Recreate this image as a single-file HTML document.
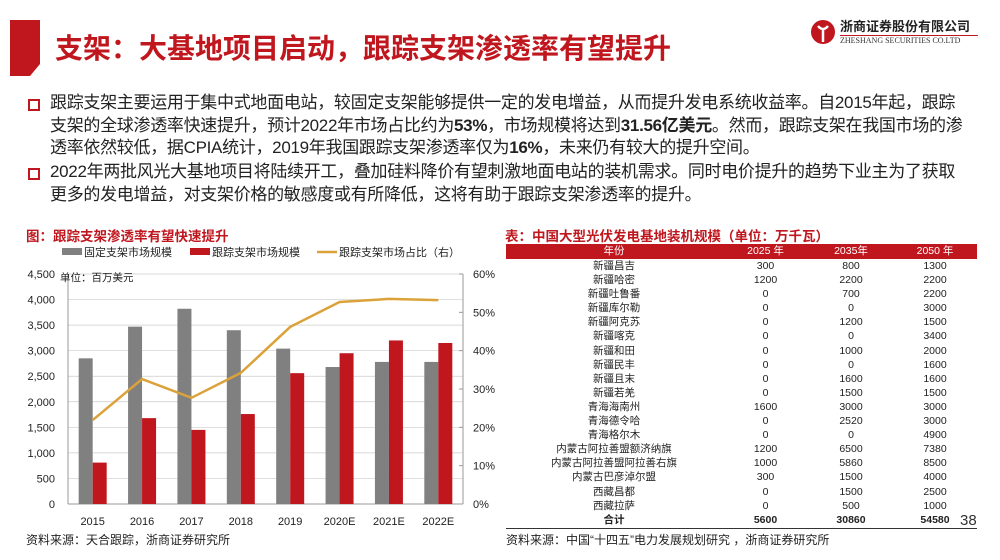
<!DOCTYPE html>
<html><head><meta charset="utf-8">
<style>
body{margin:0;width:1000px;height:560px;background:#fff;position:relative;overflow:hidden;font-family:"Liberation Sans","Noto Sans CJK SC",sans-serif;color:#222}
.abs{position:absolute}
.bul{left:28px;width:960px;font-size:17px;line-height:22.5px;white-space:nowrap}
.bul .sq{position:absolute;left:0;top:7px;width:8px;height:8px;border:2px solid #c0171f}
.bul p{margin:0 0 0 22px;letter-spacing:-0.3px}
table{border-collapse:collapse;font-size:10.5px}
td{padding:0;height:14.1px;line-height:14.1px;text-align:center}
</style></head><body>
<svg class="abs" style="left:10px;top:20px" width="30" height="56"><polygon points="0,0 30,0 30,44 20,56 0,56" fill="#c0171f"/></svg>
<div class="abs" style="left:55px;top:27px;font-size:28px;font-weight:bold;color:#c0171f;white-space:nowrap">支架：大基地项目启动，跟踪支架渗透率有望提升</div>
<div class="abs" style="left:810px;top:16px;width:170px;height:34px">
<svg width="26" height="28" style="position:absolute;left:0;top:2px"><circle cx="13" cy="14" r="12" fill="#c0171f"/><path d="M8 8 Q13 14 18 8 M13 12 L13 24" stroke="#fff" stroke-width="2.5" fill="none"/></svg>
<div style="position:absolute;left:30px;top:0;font-size:13px;font-weight:bold;color:#222">浙商证券股份有限公司</div>
<div style="position:absolute;left:30px;top:19px;font-size:8px;font-family:'Liberation Serif',serif;color:#333;border-top:1px solid #c0171f;width:138px">ZHESHANG SECURITIES CO.LTD</div></div>
<div class="abs bul" style="top:92px"><span class="sq"></span><p>跟踪支架主要运用于集中式地面电站，较固定支架能够提供一定的发电增益，从而提升发电系统收益率。自2015年起，跟踪<br>支架的全球渗透率快速提升，预计2022年市场占比约为<b>53%</b>，市场规模将达到<b>31.56亿美元</b>。然而，跟踪支架在我国市场的渗<br>透率依然较低，据CPIA统计，2019年我国跟踪支架渗透率仅为<b>16%</b>，未来仍有较大的提升空间。</p></div>
<div class="abs bul" style="top:161px"><span class="sq"></span><p>2022年两批风光大基地项目将陆续开工，叠加硅料降价有望刺激地面电站的装机需求。同时电价提升的趋势下业主为了获取<br>更多的发电增益，对支架价格的敏感度或有所降低，这将有助于跟踪支架渗透率的提升。</p></div>

<div class="abs" style="left:26px;top:225px;font-size:13.5px;font-weight:bold;color:#c0171f">图：跟踪支架渗透率有望快速提升</div>
<svg class="abs" style="left:0;top:0" width="500" height="560" id="chart"></svg>
<div class="abs" style="left:26px;top:531px;font-size:12px">资料来源：天合跟踪，浙商证券研究所</div>

<div class="abs" style="left:505px;top:225px;font-size:13.5px;font-weight:bold;color:#c0171f">表：中国大型光伏发电基地装机规模（单位：万千瓦）</div>
<table class="abs" style="left:506px;top:244px;width:471px">
<tr style="background:#c0171f;color:#fff"><td style="width:216px;height:15px">年份</td><td style="width:87px">2025 年</td><td style="width:84px">2035年</td><td>2050 年</td></tr>
<tbody id="tb"></tbody></table>
<div class="abs" style="left:506px;top:528px;width:471px;border-top:1.5px solid #333"></div>
<div class="abs" style="left:960px;top:512px;font-size:15px;color:#333">38</div>
<div class="abs" style="left:506px;top:531px;font-size:12px">资料来源：中国“十四五”电力发展规划研究 ，浙商证券研究所</div>

<script>
const rowNames=["新疆昌吉","新疆哈密","新疆吐鲁番","新疆库尔勒","新疆阿克苏","新疆喀克","新疆和田","新疆民丰","新疆且末","新疆若羌","青海海南州","青海德令哈","青海格尔木","内蒙古阿拉善盟额济纳旗","内蒙古阿拉善盟阿拉善右旗","内蒙古巴彦淖尔盟","西藏昌都","西藏拉萨","合计"];
const v2025=[300,1200,0,0,0,0,0,0,0,0,1600,0,0,1200,1000,300,0,0,5600];
const v2035=[800,2200,700,0,1200,0,1000,0,1600,1500,3000,2520,0,6500,5860,1500,1500,500,30860];
const v2050=[1300,2200,2200,3000,1500,3400,2000,1600,1600,1500,3000,3000,4900,7380,8500,4000,2500,1000,54580];
const tb=document.getElementById('tb');
rowNames.forEach((n,i)=>{const tr=document.createElement('tr');


if(i===rowNames.length-1)tr.style.fontWeight='bold';
tr.innerHTML=`<td>${n}</td><td>${v2025[i]}</td><td>${v2035[i]}</td><td>${v2050[i]}</td>`;tb.appendChild(tr);});

const cats=["2015","2016","2017","2018","2019","2020E","2021E","2022E"];
const fixedVals=[2850,3470,3820,3400,3040,2680,2780,2780];
const trackVals=[810,1680,1450,1760,2560,2950,3200,3150];
const sharePct=[21.9,32.6,27.7,34.2,46.2,52.7,53.5,53.2];
const leftTicks=[0,500,1000,1500,2000,2500,3000,3500,4000,4500];
const rightTicks=[0,10,20,30,40,50,60];
const NS='http://www.w3.org/2000/svg',svg=document.getElementById('chart');
const x0=68,x1=463,yb=504,yt=274;
const yL=v=>yb-(v/4500)*(yb-yt), yR=v=>yb-(v/60)*(yb-yt);
const step=(x1-x0)/cats.length, xc=i=>x0+step*(i+0.5);
function el(t,a,txt){const e=document.createElementNS(NS,t);for(const k in a)e.setAttribute(k,a[k]);if(txt!==undefined)e.textContent=txt;svg.appendChild(e);return e;}
leftTicks.forEach(t=>{const e=el('text',{x:55,y:yL(t)+4,'text-anchor':'end','font-size':11,fill:'#222'},t.toLocaleString('en-US'));
 if(t>0){const g=el('line',{x1:x0,x2:x1,y1:yL(t),y2:yL(t),stroke:'#ccc','stroke-width':0.7});}});
rightTicks.forEach(t=>{const e=el('text',{x:473,y:yR(t)+4,'font-size':11,fill:'#222'},t+'%');
 const k=el('line',{x1:x1,x2:x1-4,y1:yR(t),y2:yR(t),stroke:'#999'});});
let a=el('line',{x1:x0,x2:x0,y1:yt,y2:yb,stroke:'#999'});
a=el('line',{x1:x1,x2:x1,y1:yt,y2:yb,stroke:'#999'});
a=el('line',{x1:x0,x2:x1,y1:yb,y2:yb,stroke:'#999'});
a=el('text',{x:60,y:281,'font-size':10.5,fill:'#222'},'单位：百万美元');
const bw=14;
cats.forEach((c,i)=>{
 let r=el('rect',{x:xc(i)-bw,y:yL(fixedVals[i]),width:bw,height:yb-yL(fixedVals[i]),fill:'#808080'});
 r=el('rect',{x:xc(i),y:yL(trackVals[i]),width:bw,height:yb-yL(trackVals[i]),fill:'#c0171f'});
 const t=el('text',{x:xc(i),y:525,'text-anchor':'middle','font-size':11,fill:'#222'},c);});
const ln=el('polyline',{points:sharePct.map((v,i)=>xc(i)+','+yR(v)).join(' '),fill:'none',stroke:'#dba23a','stroke-width':2.5});


const leg=[['rect','#808080',62,'固定支架市场规模'],['rect','#c0171f',190,'跟踪支架市场规模'],['line','#dba23a',317,'跟踪支架市场占比（右）']];
leg.forEach(l=>{let m;if(l[0]==='rect')m=el('rect',{x:l[2],y:248,width:20,height:7,fill:l[1]});else m=el('line',{x1:l[2],x2:l[2]+20,y1:252,y2:252,stroke:l[1],'stroke-width':2.5});
 
 const t=el('text',{x:l[2]+22,y:256,'font-size':11,fill:'#222'},l[3]);});
</script>
</body></html>
